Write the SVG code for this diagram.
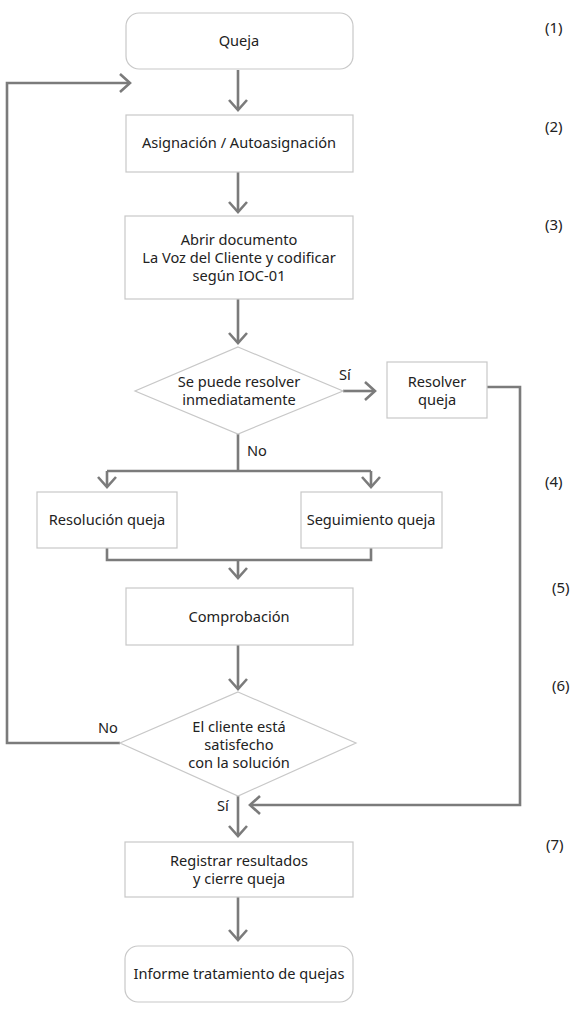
<svg xmlns="http://www.w3.org/2000/svg" width="570" height="1024" viewBox="0 0 570 1024">
<style>
  .box { fill: #ffffff; stroke: #c8c8c8; stroke-width: 1.2; }
  .lbl { font-family: "Noto Sans", "Open Sans", sans-serif; font-size: 14.6px; fill: #222222; text-anchor: middle; }
  .num { font-family: "Noto Sans", "Open Sans", sans-serif; font-size: 15px; fill: #222222; }
  .edge { fill: none; stroke: #7b7b7b; stroke-width: 2.6; stroke-linejoin: miter; }
  .elbl { font-family: "Noto Sans", "Open Sans", sans-serif; font-size: 14.6px; fill: #222222; }
</style>
<defs>
  <marker id="arr" markerUnits="userSpaceOnUse" markerWidth="16" markerHeight="24" refX="12" refY="11" orient="auto">
    <path d="M2,2 L12,11 L2,20" fill="none" stroke="#7b7b7b" stroke-width="2.6"/>
  </marker>
</defs>
<rect width="570" height="1024" fill="#ffffff"/>

<g id="connectors">
  <path class="edge" d="M238,70 V110" marker-end="url(#arr)"/>
  <path class="edge" d="M238,172 V212" marker-end="url(#arr)"/>
  <path class="edge" d="M238,299 V343" marker-end="url(#arr)"/>
  <path class="edge" d="M343,391 H375" marker-end="url(#arr)"/>
  <path class="edge" d="M238,434 V471"/>
  <path class="edge" d="M107,471 H371"/>
  <path class="edge" d="M107,471 V487" marker-end="url(#arr)"/>
  <path class="edge" d="M371,471 V487" marker-end="url(#arr)"/>
  <path class="edge" d="M107,548 V560 H371 V548"/>
  <path class="edge" d="M238,560 V578" marker-end="url(#arr)"/>
  <path class="edge" d="M238,645 V689" marker-end="url(#arr)"/>
  <path class="edge" d="M120,743 H7 V83 H130" marker-end="url(#arr)"/>
  <path class="edge" d="M238,796 V836" marker-end="url(#arr)"/>
  <path class="edge" d="M487,387 H520 V805 H250" marker-end="url(#arr)"/>
  <path class="edge" d="M238,897 V940" marker-end="url(#arr)"/>
  <text class="elbl" x="339" y="380">Sí</text>
  <text class="elbl" x="247" y="456">No</text>
  <text class="elbl" x="98" y="733">No</text>
  <text class="elbl" x="217" y="811">Sí</text>
</g>

<g id="n1">
  <rect class="box" x="126" y="13" width="227" height="56" rx="13"/>
  <text class="lbl" x="239" y="46">Queja</text>
</g>
<g id="n2">
  <rect class="box" x="126" y="115" width="227" height="57"/>
  <text class="lbl" x="239" y="148">Asignación / Autoasignación</text>
</g>
<g id="n3">
  <rect class="box" x="125" y="216" width="228" height="83"/>
  <text class="lbl" x="239" y="245">Abrir documento</text>
  <text class="lbl" x="239" y="263">La Voz del Cliente y codificar</text>
  <text class="lbl" x="239" y="281">según IOC-01</text>
</g>
<g id="d1">
  <polygon class="box" points="238,347 343,391 238,434 135,391"/>
  <text class="lbl" x="239" y="387">Se puede resolver</text>
  <text class="lbl" x="239" y="405">inmediatamente</text>
</g>
<g id="n4">
  <rect class="box" x="387" y="362" width="100" height="56"/>
  <text class="lbl" x="437" y="387">Resolver</text>
  <text class="lbl" x="437" y="405">queja</text>
</g>
<g id="n5">
  <rect class="box" x="37" y="492" width="140" height="56"/>
  <text class="lbl" x="107" y="525">Resolución queja</text>
</g>
<g id="n6">
  <rect class="box" x="301" y="492" width="141" height="56"/>
  <text class="lbl" x="371" y="525">Seguimiento queja</text>
</g>
<g id="n7">
  <rect class="box" x="126" y="588" width="227" height="57"/>
  <text class="lbl" x="239" y="622">Comprobación</text>
</g>
<g id="d2">
  <polygon class="box" points="238,692 356,743 238,796 120,743"/>
  <text class="lbl" x="239" y="732">El cliente está</text>
  <text class="lbl" x="239" y="750">satisfecho</text>
  <text class="lbl" x="239" y="768">con la solución</text>
</g>
<g id="n8">
  <rect class="box" x="125" y="842" width="228" height="55"/>
  <text class="lbl" x="239" y="866">Registrar resultados</text>
  <text class="lbl" x="239" y="884">y cierre queja</text>
</g>
<g id="n9">
  <rect class="box" x="125" y="946" width="228" height="56" rx="13"/>
  <text class="lbl" x="239" y="979">Informe tratamiento de quejas</text>
</g>

<g id="steps">
  <text class="num" x="545" y="33">(1)</text>
  <text class="num" x="545" y="132">(2)</text>
  <text class="num" x="545" y="230">(3)</text>
  <text class="num" x="545" y="487">(4)</text>
  <text class="num" x="552" y="593">(5)</text>
  <text class="num" x="552" y="691">(6)</text>
  <text class="num" x="546" y="850">(7)</text>
</g>
</svg>
